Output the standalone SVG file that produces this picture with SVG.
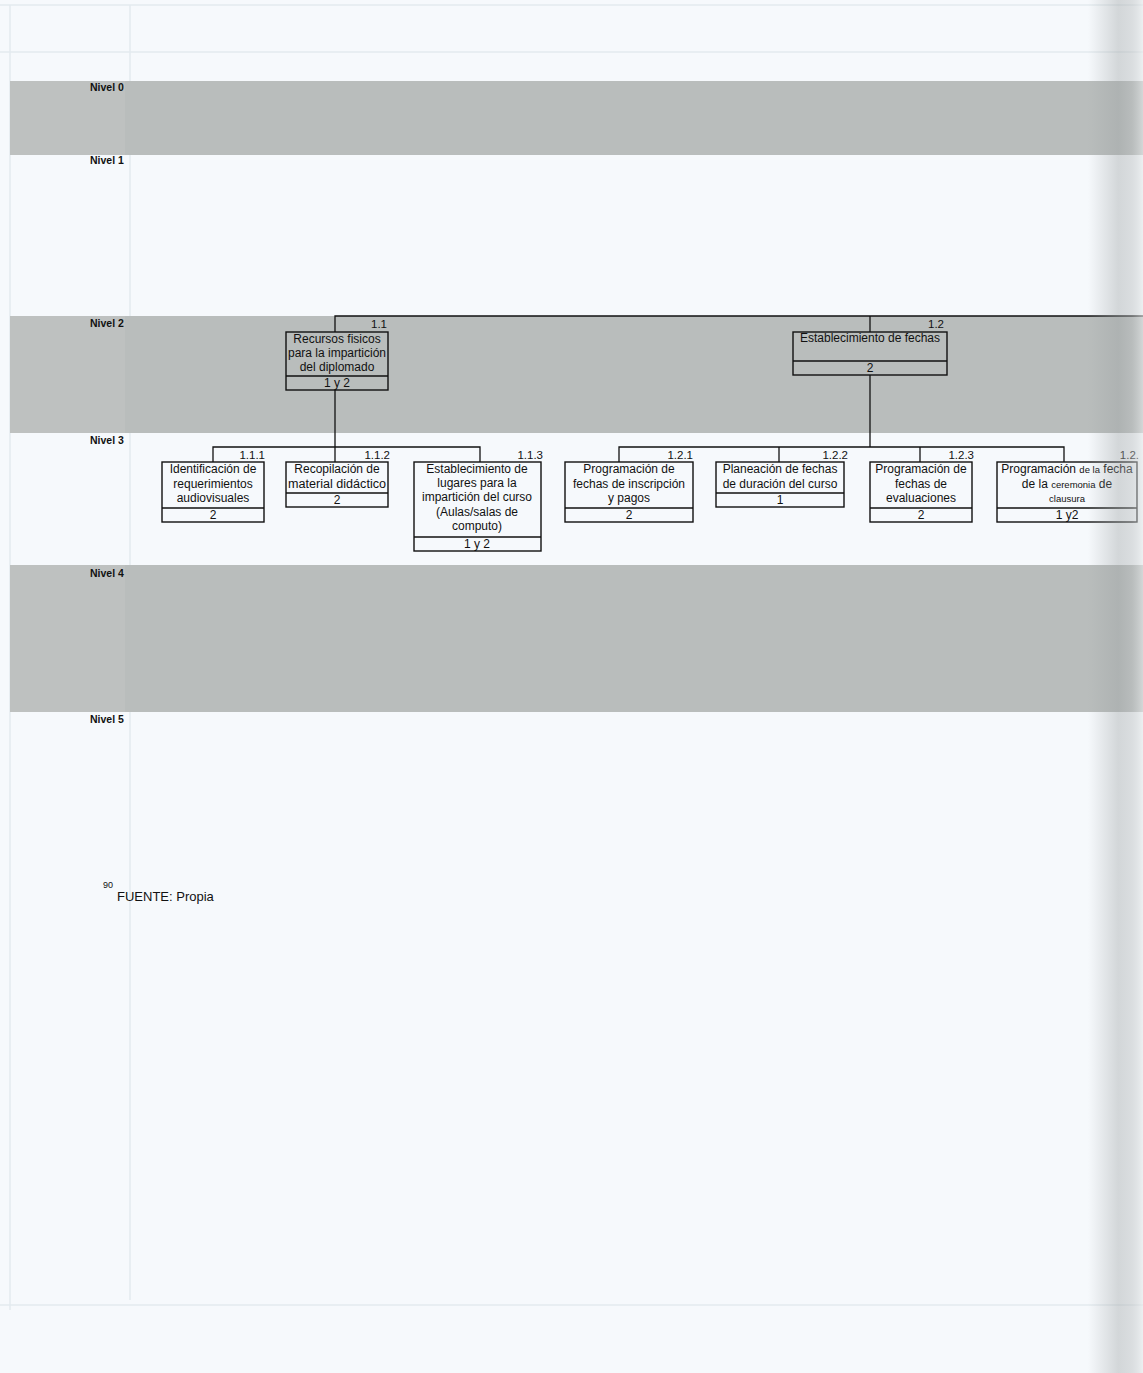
<svg xmlns="http://www.w3.org/2000/svg" width="1143" height="1373" viewBox="0 0 1143 1373">
<defs>
<style>
.band{fill:#b9bdbc}
.bandl{fill:#bec1c0}
.faint{stroke:#e3eaef;stroke-width:1.5;fill:none}
.lvl{font-family:"Liberation Sans",Arial,sans-serif;font-weight:bold;font-size:10.5px;fill:#111}
.box{fill:none;stroke:#111;stroke-width:1.4}
.t{font-family:"Liberation Sans",Arial,sans-serif;font-size:12px;fill:#111;text-anchor:middle}
.sm{font-size:9.5px}
.id{font-family:"Liberation Sans",Arial,sans-serif;font-size:11.5px;fill:#111;text-anchor:end}
.con{stroke:#111;stroke-width:1.3;fill:none}
</style>
<linearGradient id="edge" x1="0" y1="0" x2="1" y2="0">
<stop offset="0" stop-color="#9ea3a4" stop-opacity="0"/>
<stop offset="0.55" stop-color="#9ea3a4" stop-opacity="0.4"/>
<stop offset="0.8" stop-color="#b8bcbd" stop-opacity="0.45"/>
<stop offset="1" stop-color="#e6e9ea" stop-opacity="0.6"/>
</linearGradient>
<clipPath id="c11"><rect x="286" y="332" width="102" height="58"/></clipPath>
<clipPath id="c124"><rect x="997" y="462" width="140" height="60"/></clipPath>
</defs>
<rect x="0" y="0" width="1143" height="1373" fill="#f6f9fc"/>
<g id="table-lines">
<line class="faint" x1="0" y1="5" x2="1143" y2="5"/>
<line class="faint" x1="0" y1="52" x2="1143" y2="52"/>
<line class="faint" x1="10" y1="5" x2="10" y2="1310"/>
<line class="faint" x1="130" y1="5" x2="130" y2="1300"/>
<line class="faint" x1="0" y1="1305" x2="1143" y2="1305"/>
</g>
<g id="bands">
<rect class="band" x="10" y="81" width="1133" height="74"/>
<rect class="bandl" x="10" y="81" width="115" height="74"/>
<rect class="band" x="10" y="316" width="1133" height="117"/>
<rect class="bandl" x="10" y="316" width="115" height="117"/>
<rect class="band" x="10" y="565" width="1133" height="147"/>
<rect class="bandl" x="10" y="565" width="115" height="147"/>
</g>
<g id="levels">
<text class="lvl" x="90" y="91">Nivel 0</text>
<text class="lvl" x="90" y="164">Nivel 1</text>
<text class="lvl" x="90" y="327">Nivel 2</text>
<text class="lvl" x="90" y="444">Nivel 3</text>
<text class="lvl" x="90" y="577">Nivel 4</text>
<text class="lvl" x="90" y="723">Nivel 5</text>
</g>
<g id="connectors">
<path class="con" d="M335 332V316H1143"/>
<path class="con" d="M870 316V332"/>
<path class="con" d="M335 390V462"/>
<path class="con" d="M213 462V447H480V462"/>
<path class="con" d="M870 375V447"/>
<path class="con" d="M619 462V447H1064V462"/>
<path class="con" d="M779 447V462"/>
<path class="con" d="M920 447V462"/>
</g>
<g id="n1-1">
<text class="id" x="387" y="328">1.1</text>
<rect class="box" x="286" y="332" width="102" height="58"/>
<line class="box" x1="286" y1="376" x2="388" y2="376"/>
<g clip-path="url(#c11)">
<text class="t" x="337" y="343">Recursos fisicos</text>
<text class="t" x="337" y="357">para la impartición</text>
<text class="t" x="337" y="371">del diplomado</text>
</g>
<text class="t" x="337" y="387">1 y 2</text>
</g>
<g id="n1-2">
<text class="id" x="944" y="328">1.2</text>
<rect class="box" x="793" y="332" width="154" height="43"/>
<line class="box" x1="793" y1="361" x2="947" y2="361"/>
<text class="t" x="870" y="342">Establecimiento de fechas</text>
<text class="t" x="870" y="372">2</text>
</g>
<g id="n1-1-1">
<text class="id" x="265" y="459">1.1.1</text>
<rect class="box" x="162" y="462" width="102" height="60"/>
<line class="box" x1="162" y1="508" x2="264" y2="508"/>
<text class="t" x="213" y="473">Identificación de</text>
<text class="t" x="213" y="488">requerimientos</text>
<text class="t" x="213" y="502">audiovisuales</text>
<text class="t" x="213" y="519">2</text>
</g>
<g id="n1-1-2">
<text class="id" x="390" y="459">1.1.2</text>
<rect class="box" x="286" y="462" width="102" height="45"/>
<line class="box" x1="286" y1="493" x2="388" y2="493"/>
<text class="t" x="337" y="473">Recopilación de</text>
<text class="t" x="337" y="488" textLength="98" lengthAdjust="spacingAndGlyphs">material didáctico</text>
<text class="t" x="337" y="504">2</text>
</g>
<g id="n1-1-3">
<text class="id" x="543" y="459">1.1.3</text>
<rect class="box" x="414" y="462" width="127" height="89"/>
<line class="box" x1="414" y1="537" x2="541" y2="537"/>
<text class="t" x="477" y="473">Establecimiento de</text>
<text class="t" x="477" y="487">lugares para la</text>
<text class="t" x="477" y="501">impartición del curso</text>
<text class="t" x="477" y="516">(Aulas/salas de</text>
<text class="t" x="477" y="530">computo)</text>
<text class="t" x="477" y="548">1 y 2</text>
</g>
<g id="n1-2-1">
<text class="id" x="693" y="459">1.2.1</text>
<rect class="box" x="565" y="462" width="128" height="60"/>
<line class="box" x1="565" y1="508" x2="693" y2="508"/>
<text class="t" x="629" y="473">Programación de</text>
<text class="t" x="629" y="488">fechas de inscripción</text>
<text class="t" x="629" y="502">y pagos</text>
<text class="t" x="629" y="519">2</text>
</g>
<g id="n1-2-2">
<text class="id" x="848" y="459">1.2.2</text>
<rect class="box" x="716" y="462" width="128" height="45"/>
<line class="box" x1="716" y1="493" x2="844" y2="493"/>
<text class="t" x="780" y="473">Planeación de fechas</text>
<text class="t" x="780" y="488">de duración del curso</text>
<text class="t" x="780" y="504">1</text>
</g>
<g id="n1-2-3">
<text class="id" x="974" y="459">1.2.3</text>
<rect class="box" x="870" y="462" width="102" height="60"/>
<line class="box" x1="870" y1="508" x2="972" y2="508"/>
<text class="t" x="921" y="473">Programación de</text>
<text class="t" x="921" y="488">fechas de</text>
<text class="t" x="921" y="502">evaluaciones</text>
<text class="t" x="921" y="519">2</text>
</g>
<g id="n1-2-4">
<text class="id" x="1139" y="459">1.2.</text>
<rect class="box" x="997" y="462" width="140" height="60"/>
<line class="box" x1="997" y1="508" x2="1137" y2="508"/>
<g clip-path="url(#c124)">
<text class="t" x="1067" y="473">Programación <tspan class="sm">de la</tspan> fecha</text>
<text class="t" x="1067" y="488">de la <tspan class="sm">ceremonia</tspan> de</text>
<text class="t sm" x="1067" y="502">clausura</text>
</g>
<text class="t" x="1067" y="519">1 y2</text>
</g>
<g id="footnote">
<text font-family="'Liberation Sans',Arial,sans-serif" font-size="9px" fill="#111" x="103" y="888">90</text>
<text font-family="'Liberation Sans',Arial,sans-serif" font-size="13px" fill="#111" x="117" y="901">FUENTE: Propia</text>
</g>
<rect x="1088" y="0" width="55" height="1373" fill="url(#edge)"/>
</svg>
